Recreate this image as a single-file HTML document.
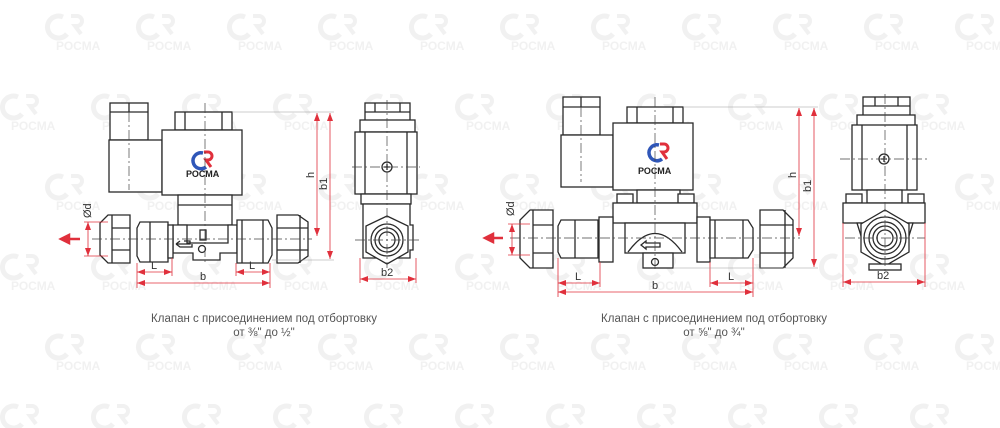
<!DOCTYPE html>
<html><head><meta charset="utf-8"><style>
html,body{margin:0;padding:0;background:#fff;}
svg{display:block}
.l{fill:none;stroke:#2a2a2a;stroke-width:1.3}
.f{fill:#fff;stroke:#2a2a2a;stroke-width:1.3}
.c{stroke:#444;stroke-width:0.7;stroke-dasharray:10 3 2 3;fill:none}
.d{stroke:#e0303c;stroke-width:0.8;fill:none}
.t{font-family:"Liberation Sans",sans-serif;font-size:11px;fill:#333}
.w{font-family:"Liberation Sans",sans-serif;font-size:12px;font-weight:bold;fill:#f1f1f1}
.cap{font-family:"Liberation Sans",sans-serif;font-size:11.5px;fill:#555}
</style></head><body>
<svg width="1000" height="428" viewBox="0 0 1000 428" xmlns="http://www.w3.org/2000/svg">
<defs>
<marker id="a" markerWidth="8" markerHeight="6" refX="8" refY="3" orient="auto-start-reverse" markerUnits="userSpaceOnUse"><path d="M0,0 L8,3 L0,6z" fill="#e0303c"/></marker>
<g id="wm"><path d="M-10,-8 a11,11 0 1 0 4,17" stroke="#f1f1f1" stroke-width="5" fill="none"/><path d="M-2,-9 h6 a5,5 0 0 1 0,10 h-2 l6,8" stroke="#f1f1f1" stroke-width="4" fill="none"/><text class="w" x="-17" y="25">РОСМА</text></g>
</defs>
<g>
<use href="#wm" x="73" y="25"/><use href="#wm" x="164" y="25"/><use href="#wm" x="255" y="25"/><use href="#wm" x="346" y="25"/><use href="#wm" x="437" y="25"/><use href="#wm" x="528" y="25"/><use href="#wm" x="619" y="25"/><use href="#wm" x="710" y="25"/><use href="#wm" x="801" y="25"/><use href="#wm" x="892" y="25"/><use href="#wm" x="983" y="25"/>
<use href="#wm" x="28" y="105"/><use href="#wm" x="119" y="105"/><use href="#wm" x="210" y="105"/><use href="#wm" x="301" y="105"/><use href="#wm" x="392" y="105"/><use href="#wm" x="483" y="105"/><use href="#wm" x="574" y="105"/><use href="#wm" x="665" y="105"/><use href="#wm" x="756" y="105"/><use href="#wm" x="847" y="105"/><use href="#wm" x="938" y="105"/>
<use href="#wm" x="73" y="185"/><use href="#wm" x="164" y="185"/><use href="#wm" x="255" y="185"/><use href="#wm" x="346" y="185"/><use href="#wm" x="437" y="185"/><use href="#wm" x="528" y="185"/><use href="#wm" x="619" y="185"/><use href="#wm" x="710" y="185"/><use href="#wm" x="801" y="185"/><use href="#wm" x="892" y="185"/><use href="#wm" x="983" y="185"/>
<use href="#wm" x="28" y="265"/><use href="#wm" x="119" y="265"/><use href="#wm" x="210" y="265"/><use href="#wm" x="301" y="265"/><use href="#wm" x="392" y="265"/><use href="#wm" x="483" y="265"/><use href="#wm" x="574" y="265"/><use href="#wm" x="665" y="265"/><use href="#wm" x="756" y="265"/><use href="#wm" x="847" y="265"/><use href="#wm" x="938" y="265"/>
<use href="#wm" x="73" y="345"/><use href="#wm" x="164" y="345"/><use href="#wm" x="255" y="345"/><use href="#wm" x="346" y="345"/><use href="#wm" x="437" y="345"/><use href="#wm" x="528" y="345"/><use href="#wm" x="619" y="345"/><use href="#wm" x="710" y="345"/><use href="#wm" x="801" y="345"/><use href="#wm" x="892" y="345"/><use href="#wm" x="983" y="345"/>
<use href="#wm" x="28" y="415"/><use href="#wm" x="119" y="415"/><use href="#wm" x="210" y="415"/><use href="#wm" x="301" y="415"/><use href="#wm" x="392" y="415"/><use href="#wm" x="483" y="415"/><use href="#wm" x="574" y="415"/><use href="#wm" x="665" y="415"/><use href="#wm" x="756" y="415"/><use href="#wm" x="847" y="415"/><use href="#wm" x="938" y="415"/>
</g>

<g>
<rect class="f" x="110" y="103" width="38" height="37"/><line class="l" x1="110" y1="112" x2="148" y2="112"/><line class="l" x1="129" y1="103" x2="129" y2="112"/>
<rect class="f" x="109" y="140" width="53" height="52"/>
<rect class="f" x="175" y="112" width="57" height="18"/><line class="l" x1="185" y1="112" x2="185" y2="130"/><line class="l" x1="222" y1="112" x2="222" y2="130"/>
<rect class="f" x="162" y="130" width="80" height="65"/>
<rect class="f" x="178" y="195" width="54" height="30"/><line class="l" x1="178" y1="205" x2="232" y2="205"/>
<path d="M203,153 a8,8 0 1 0 3,14" stroke="#2f56b8" stroke-width="3.5" fill="none"/><path d="M204,152 h4 a4,4 0 0 1 0,8 h-2 l5,7" stroke="#e0303c" stroke-width="3" fill="none"/>
<text x="186" y="177" font-family="Liberation Sans,sans-serif" font-size="9" font-weight="bold" fill="#222">РОСМА</text>
<path class="f" d="M173,225 H187 V243 H228 V225 H237 V253 H220 V260 H193 V253 H173 Z"/>
<rect class="f" x="200" y="230" width="6" height="10"/>
<circle class="l" cx="202" cy="249" r="3.5"/>
<path class="l" d="M176,244 h14 v-3 l-6,0 M176,244 l4,-3 M176,244 l4,3 h12 v-3"/>
<path class="f" d="M140,222 H168 V262 H140 L137,256 V228 Z"/><line class="l" x1="150" y1="222" x2="150" y2="262"/>
<rect class="f" x="168" y="225" width="5" height="33"/>
<path class="f" d="M237,220 H268 L272,228 V255 L268,263 H237 Z"/><line class="l" x1="242" y1="220" x2="242" y2="263"/><line class="l" x1="263" y1="220" x2="263" y2="263"/>
<path class="f" d="M108,215 H130 V263 H108 L100,255 V223 Z"/><line class="l" x1="112" y1="215" x2="112" y2="263"/><line class="l" x1="112" y1="228" x2="130" y2="228"/><line class="l" x1="112" y1="250" x2="130" y2="250"/>
<path class="f" d="M277,215 H298 L308,222 V256 L298,263 H277 Z"/><line class="l" x1="277" y1="228" x2="308" y2="228"/><line class="l" x1="277" y1="250" x2="308" y2="250"/><line class="l" x1="300" y1="215" x2="300" y2="263"/>
<line class="c" x1="92" y1="239" x2="312" y2="239"/><line class="c" x1="205" y1="103" x2="205" y2="262"/><line class="c" x1="129" y1="112" x2="129" y2="190"/>
<path d="M80,239 H69 M69,235 L61,239 L69,243 Z" stroke="#e0303c" stroke-width="2.5" fill="#e0303c"/>
<line class="d" x1="88" y1="222" x2="88" y2="256" marker-start="url(#a)" marker-end="url(#a)"/>
<line class="d" x1="84" y1="222" x2="108" y2="222"/><line class="d" x1="84" y1="256" x2="108" y2="256"/>
<text class="t" transform="translate(91,218) rotate(-90)">Ød</text>
<line class="d" x1="137" y1="263" x2="137" y2="288"/><line class="d" x1="172" y1="258" x2="172" y2="276"/><line class="d" x1="236" y1="263" x2="236" y2="276"/><line class="d" x1="270" y1="263" x2="270" y2="288"/>
<line class="d" x1="137" y1="272" x2="172" y2="272" marker-start="url(#a)" marker-end="url(#a)"/><text class="t" x="151" y="269">L</text>
<line class="d" x1="236" y1="272" x2="270" y2="272" marker-start="url(#a)" marker-end="url(#a)"/><text class="t" x="249" y="269">L</text>
<line class="d" x1="137" y1="283" x2="270" y2="283" marker-start="url(#a)" marker-end="url(#a)"/><text class="t" x="200" y="280">b</text>
<line x1="232" y1="112" x2="334" y2="112" stroke="#999" stroke-width="0.6"/><line x1="272" y1="260" x2="334" y2="260" stroke="#999" stroke-width="0.6"/>
<line class="d" x1="317" y1="113" x2="317" y2="236" marker-start="url(#a)" marker-end="url(#a)"/><text class="t" transform="translate(314,178) rotate(-90)">h</text>
<line class="d" x1="330" y1="113" x2="330" y2="259" marker-start="url(#a)" marker-end="url(#a)"/><text class="t" transform="translate(327,190) rotate(-90)">b1</text>
<rect class="f" x="365" y="103" width="45" height="27"/><line class="l" x1="365" y1="112" x2="410" y2="112"/><line class="l" x1="375" y1="103" x2="375" y2="112"/><line class="l" x1="400" y1="103" x2="400" y2="112"/>
<rect class="f" x="360" y="120" width="55" height="12"/>
<rect class="f" x="355" y="132" width="62" height="62"/><line class="l" x1="365" y1="132" x2="365" y2="194"/><line class="l" x1="407" y1="132" x2="407" y2="194"/>
<rect class="f" x="361" y="194" width="50" height="10"/>
<path class="f" d="M363,204 H410 V225 H413 V250 H410 V258 H363 Z"/>
<polygon class="f" points="387,216 408,226 408,252 387,264 366,252 366,226"/>
<circle class="l" cx="387" cy="240" r="16"/><circle class="l" cx="387" cy="240" r="12"/><circle class="l" cx="387" cy="240" r="8"/>
<circle class="l" cx="387" cy="167" r="5"/><path class="l" d="M384,167 h6 M387,164 v6"/>
<line class="c" x1="352" y1="167" x2="420" y2="167"/><line class="c" x1="387" y1="100" x2="387" y2="268"/><line class="c" x1="355" y1="240" x2="420" y2="240"/>
<line class="d" x1="360" y1="258" x2="360" y2="283"/><line class="d" x1="416" y1="258" x2="416" y2="283"/>
<line class="d" x1="360" y1="279" x2="416" y2="279" marker-start="url(#a)" marker-end="url(#a)"/><text class="t" x="381" y="276">b2</text>
<text class="cap" x="264" y="322" text-anchor="middle">Клапан с присоединением под отбортовку</text>
<text class="cap" x="264" y="336" text-anchor="middle">от ⅜" до ½"</text>
</g>

<g>
<rect class="f" x="563" y="97" width="37" height="38"/><line class="l" x1="563" y1="107" x2="600" y2="107"/><line class="l" x1="581" y1="97" x2="581" y2="107"/>
<rect class="f" x="561" y="135" width="52" height="52"/>
<rect class="f" x="627" y="107" width="56" height="16"/><line class="l" x1="637" y1="107" x2="637" y2="123"/><line class="l" x1="673" y1="107" x2="673" y2="123"/>
<rect class="f" x="613" y="123" width="80" height="67"/>
<path d="M659,145 a8,8 0 1 0 3,14" stroke="#2f56b8" stroke-width="3.5" fill="none"/><path d="M660,144 h4 a4,4 0 0 1 0,8 h-2 l5,7" stroke="#e0303c" stroke-width="3" fill="none"/>
<text x="638" y="174" font-family="Liberation Sans,sans-serif" font-size="9" font-weight="bold" fill="#222">РОСМА</text>
<rect class="f" x="637" y="190" width="43" height="13"/>
<rect class="f" x="617" y="194" width="16" height="9"/><rect class="f" x="678" y="194" width="16" height="9"/>
<rect class="f" x="613" y="203" width="84" height="20"/>
<rect class="f" x="625" y="223" width="60" height="30"/>
<path class="l" d="M628,252 Q655,215 682,252"/>
<path class="l" d="M641,245 l5,-4 v2 h14 v4 h-14 v2 z"/>
<rect class="f" x="643" y="253" width="30" height="15"/><circle class="l" cx="655" cy="262" r="3.5"/>
<rect class="f" x="599" y="217" width="14" height="45"/><rect class="f" x="697" y="217" width="13" height="45"/>
<path class="f" d="M561,220 H598 V258 H561 L558,252 V226 Z"/><line class="l" x1="575" y1="220" x2="575" y2="258"/>
<path class="f" d="M710,220 H748 L753,228 V250 L748,258 H710 Z"/><line class="l" x1="715" y1="220" x2="715" y2="258"/><line class="l" x1="743" y1="220" x2="743" y2="258"/>
<path class="f" d="M530,210 H553 V268 H530 L520,258 V220 Z"/><line class="l" x1="533" y1="210" x2="533" y2="268"/><line class="l" x1="533" y1="225" x2="553" y2="225"/><line class="l" x1="533" y1="253" x2="553" y2="253"/>
<path class="f" d="M760,210 H783 L793,220 V258 L783,268 H760 Z"/><line class="l" x1="760" y1="225" x2="793" y2="225"/><line class="l" x1="760" y1="253" x2="793" y2="253"/><line class="l" x1="785" y1="210" x2="785" y2="268"/>
<line class="c" x1="510" y1="238" x2="800" y2="238"/><line class="c" x1="655" y1="97" x2="655" y2="270"/><line class="c" x1="581" y1="107" x2="581" y2="182"/>
<path d="M503,238 H493 M493,234 L485,238 L493,242 Z" stroke="#e0303c" stroke-width="2.5" fill="#e0303c"/>
<line class="d" x1="512" y1="224" x2="512" y2="255" marker-start="url(#a)" marker-end="url(#a)"/>
<line class="d" x1="508" y1="224" x2="530" y2="224"/><line class="d" x1="508" y1="255" x2="530" y2="255"/>
<text class="t" transform="translate(514,216) rotate(-90)">Ød</text>
<line class="d" x1="558" y1="258" x2="558" y2="297"/><line class="d" x1="600" y1="262" x2="600" y2="287"/><line class="d" x1="710" y1="262" x2="710" y2="287"/><line class="d" x1="753" y1="258" x2="753" y2="297"/>
<line class="d" x1="558" y1="283" x2="600" y2="283" marker-start="url(#a)" marker-end="url(#a)"/><text class="t" x="575" y="280">L</text>
<line class="d" x1="710" y1="283" x2="753" y2="283" marker-start="url(#a)" marker-end="url(#a)"/><text class="t" x="728" y="280">L</text>
<line class="d" x1="558" y1="292" x2="753" y2="292" marker-start="url(#a)" marker-end="url(#a)"/><text class="t" x="652" y="289">b</text>
<line x1="683" y1="107" x2="818" y2="107" stroke="#999" stroke-width="0.6"/><line x1="673" y1="268" x2="818" y2="268" stroke="#999" stroke-width="0.6"/>
<line class="d" x1="799" y1="108" x2="799" y2="236" marker-start="url(#a)" marker-end="url(#a)"/><text class="t" transform="translate(796,178) rotate(-90)">h</text>
<line class="d" x1="814" y1="108" x2="814" y2="267" marker-start="url(#a)" marker-end="url(#a)"/><text class="t" transform="translate(811,192) rotate(-90)">b1</text>
<rect class="f" x="863" y="97" width="47" height="23"/><line class="l" x1="863" y1="106" x2="910" y2="106"/><line class="l" x1="875" y1="97" x2="875" y2="106"/><line class="l" x1="898" y1="97" x2="898" y2="106"/>
<rect class="f" x="857" y="115" width="58" height="12"/>
<rect class="f" x="852" y="125" width="65" height="65"/><line class="l" x1="862" y1="125" x2="862" y2="190"/><line class="l" x1="907" y1="125" x2="907" y2="190"/>
<rect class="f" x="867" y="190" width="35" height="13"/><rect class="f" x="846" y="194" width="16" height="9"/><rect class="f" x="908" y="194" width="16" height="9"/>
<rect class="f" x="843" y="203" width="82" height="20"/>
<path class="f" d="M857,223 L867,255 H903 L913,223 Z"/>
<polygon class="f" points="885,210 909,224 909,252 885,266 861,252 861,224"/>
<circle class="l" cx="885" cy="238" r="21"/><circle class="l" cx="885" cy="238" r="16"/><circle class="l" cx="885" cy="238" r="12"/><circle class="l" cx="885" cy="238" r="8"/>
<rect class="f" x="869" y="264" width="32" height="6"/>
<circle class="l" cx="884" cy="159" r="5"/><path class="l" d="M881,159 h6 M884,156 v6"/>
<line class="c" x1="840" y1="159" x2="928" y2="159"/><line class="c" x1="885" y1="94" x2="885" y2="272"/><line class="c" x1="845" y1="238" x2="925" y2="238"/>
<line class="d" x1="843" y1="223" x2="843" y2="287"/><line class="d" x1="925" y1="223" x2="925" y2="287"/>
<line class="d" x1="843" y1="282" x2="925" y2="282" marker-start="url(#a)" marker-end="url(#a)"/><text class="t" x="877" y="279">b2</text>
<text class="cap" x="714" y="322" text-anchor="middle">Клапан с присоединением под отбортовку</text>
<text class="cap" x="714" y="336" text-anchor="middle">от ⅝" до ¾"</text>
</g>
</svg>
</body></html>
